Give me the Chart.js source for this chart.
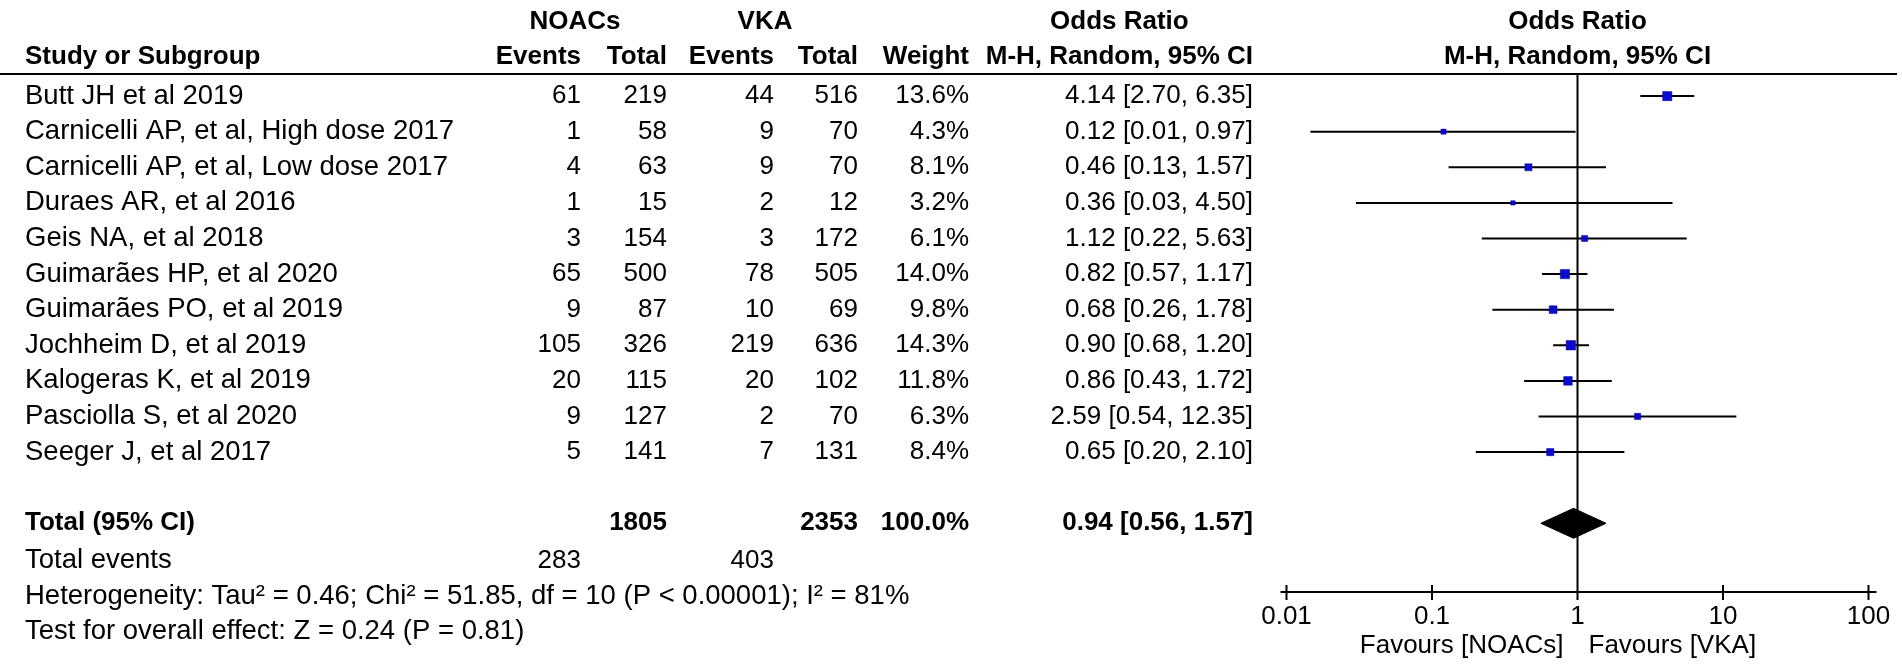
<!DOCTYPE html>
<html>
<head>
<meta charset="utf-8">
<script src="https://cdn.jsdelivr.net/npm/chart.js@4.4.0/dist/chart.umd.min.js"></script>
<style>
html, body { margin: 0; padding: 0; background: #fff; }
#wrap { position: relative; width: 1902px; height: 665px; }
</style>
</head>
<body>
<div id="wrap"><canvas id="forest"></canvas></div>
<script>
var studies = ['Butt JH et al 2019', 'Carnicelli AP, et al, High dose 2017', 'Carnicelli AP, et al, Low dose 2017',
	'Duraes AR, et al 2016', 'Geis NA, et al 2018', 'Guimarães HP, et al 2020', 'Guimarães PO, et al 2019',
	'Jochheim D, et al 2019', 'Kalogeras K, et al 2019', 'Pasciolla S, et al 2020', 'Seeger J, et al 2017'];
var noacEvents = [61, 1, 4, 1, 3, 65, 9, 105, 20, 9, 5];
var noacTotal = [219, 58, 63, 15, 154, 500, 87, 326, 115, 127, 141];
var vkaEvents = [44, 9, 9, 2, 3, 78, 10, 219, 20, 2, 7];
var vkaTotal = [516, 70, 70, 12, 172, 505, 69, 636, 102, 70, 131];
var weights = [13.6, 4.3, 8.1, 3.2, 6.1, 14.0, 9.8, 14.3, 11.8, 6.3, 8.4];
var oddsRatio = [4.14, 0.12, 0.46, 0.36, 1.12, 0.82, 0.68, 0.90, 0.86, 2.59, 0.65];
var ciLow = [2.70, 0.0146, 0.13, 0.03, 0.22, 0.57, 0.26, 0.68, 0.43, 0.54, 0.20];
var ciHigh = [6.35, 0.97, 1.57, 4.50, 5.63, 1.17, 1.78, 1.20, 1.72, 12.35, 2.10];

var totalOR = [0.94, 0.56, 1.57];
var totalN = [1805, 2353];
var totalEvents = [283, 403];
var heterogeneity = 'Heterogeneity: Tau² = 0.46; Chi² = 51.85, df = 10 (P < 0.00001); I² = 81%';
var overallTest = 'Test for overall effect: Z = 0.24 (P = 0.81)';

var tickVals = [0.01, 0.1, 1, 10, 100];
var tickLabels = ['0.01', '0.1', '1', '10', '100'];

var FONT = '"Liberation Sans", Arial, sans-serif';
var totalRow = 12;

// CI whiskers, one segment per study, broken by null points
var ciData = [];
for (var i = 0; i < studies.length; i++) {
	ciData.push({x: ciLow[i], y: i});
	ciData.push({x: ciHigh[i], y: i});
	ciData.push({x: ciHigh[i], y: null});
}

var squareData = [];
for (var k = 0; k < studies.length; k++) {
	squareData.push({x: oddsRatio[k], y: k});
}

var diamondData = [
	{x: totalOR[1], y: totalRow},
	{x: totalOR[0], y: totalRow - 0.42},
	{x: totalOR[2], y: totalRow},
	{x: totalOR[0], y: totalRow + 0.42},
	{x: totalOR[1], y: totalRow}
];

function f2(v) { return v.toFixed(2); }

var forestDecor = {
	id: 'forestDecor',
	beforeDatasetsDraw: function(chart) {
		var ctx = chart.ctx, xs = chart.scales.x, a = chart.chartArea;
		var x1 = xs.getPixelForValue(1);
		ctx.save();
		ctx.strokeStyle = '#000';
		ctx.lineWidth = 2;
		ctx.beginPath();
		ctx.moveTo(0, a.top);
		ctx.lineTo(1897, a.top);
		ctx.moveTo(x1, a.top);
		ctx.lineTo(x1, a.bottom);
		ctx.moveTo(xs.left - 6, a.bottom);
		ctx.lineTo(xs.right + 8, a.bottom);
		for (var t = 0; t < tickVals.length; t++) {
			var px = xs.getPixelForValue(tickVals[t]);
			ctx.moveTo(px, a.bottom - 7);
			ctx.lineTo(px, a.bottom + 8);
		}
		ctx.stroke();
		ctx.restore();
	},
	afterDraw: function(chart) {
		var ctx = chart.ctx, xs = chart.scales.x, ys = chart.scales.y, a = chart.chartArea;
		var x1 = xs.getPixelForValue(1);
		var colStudy = 25, colNE = 581, colNT = 667, colVE = 774, colVT = 858, colW = 969, colOR = 1253;

		function txt(s, x, y, align, bold, size) {
			ctx.font = (bold ? 'bold ' : '') + (size || 26) + 'px ' + FONT;
			ctx.textAlign = align;
			ctx.fillText(s, x, y);
		}

		ctx.save();
		ctx.fillStyle = '#000';
		ctx.textBaseline = 'middle';

		var h1 = a.top - 52, h2 = a.top - 17;
		ctx.font = 'bold 26px ' + FONT;
		var mhW = ctx.measureText('M-H, Random, 95% CI').width;
		txt('NOACs', 575, h1, 'center', true);
		txt('VKA', 765, h1, 'center', true);
		txt('Odds Ratio', colOR - mhW / 2, h1, 'center', true);
		txt('Odds Ratio', x1, h1, 'center', true);
		txt('Study or Subgroup', colStudy, h2, 'left', true);
		txt('Events', colNE, h2, 'right', true);
		txt('Total', colNT, h2, 'right', true);
		txt('Events', colVE, h2, 'right', true);
		txt('Total', colVT, h2, 'right', true);
		txt('Weight', colW, h2, 'right', true);
		txt('M-H, Random, 95% CI', colOR, h2, 'right', true);
		txt('M-H, Random, 95% CI', x1, h2, 'center', true);

		for (var i = 0; i < studies.length; i++) {
			var y = ys.getPixelForValue(i);
			txt(studies[i], colStudy, y, 'left', false, 27.5);
			txt(String(noacEvents[i]), colNE, y, 'right');
			txt(String(noacTotal[i]), colNT, y, 'right');
			txt(String(vkaEvents[i]), colVE, y, 'right');
			txt(String(vkaTotal[i]), colVT, y, 'right');
			txt(weights[i].toFixed(1) + '%', colW, y, 'right');
			txt(f2(oddsRatio[i]) + ' [' + f2(ciLow[i]) + ', ' + f2(ciHigh[i]) + ']', colOR, y, 'right');
		}

		var yt = ys.getPixelForValue(totalRow);
		txt('Total (95% CI)', colStudy, yt, 'left', true);
		txt(String(totalN[0]), colNT, yt, 'right', true);
		txt(String(totalN[1]), colVT, yt, 'right', true);
		txt('100.0%', colW, yt, 'right', true);
		txt(f2(totalOR[0]) + ' [' + f2(totalOR[1]) + ', ' + f2(totalOR[2]) + ']', colOR, yt, 'right', true);

		var ye = ys.getPixelForValue(13.05);
		txt('Total events', colStudy, ye, 'left', false, 27.5);
		txt(String(totalEvents[0]), colNE, ye, 'right');
		txt(String(totalEvents[1]), colVE, ye, 'right');
		txt(heterogeneity, colStudy, ys.getPixelForValue(14.05), 'left', false, 27.5);
		txt(overallTest, colStudy, ys.getPixelForValue(15.05), 'left', false, 27.5);

		txt('Favours [NOACs]', x1 - 14, a.bottom + 54, 'right');
		txt('Favours [VKA]', x1 + 11, a.bottom + 54, 'left');
		ctx.restore();
	}
};

var ctx = document.getElementById('forest').getContext('2d');
var chart = new Chart(ctx, {
	type: 'scatter',
	data: {
		datasets: [{
				label: 'Study OR',
				data: squareData,
				pointStyle: 'rect',
				pointRadius: function(c) { return 2.5 * Math.sqrt(weights[c.dataIndex]) / Math.SQRT2; },
				backgroundColor: '#0a0ad0',
				borderColor: '#0a0a90',
				borderWidth: 0.5
			},
			{
				label: 'Pooled',
				data: diamondData,
				showLine: true,
				fill: 'shape',
				tension: 0,
				pointRadius: 0,
				backgroundColor: '#000',
				borderColor: '#000',
				borderWidth: 1
			},
			{
				label: '95% CI',
				data: ciData,
				showLine: true,
				spanGaps: false,
				pointRadius: 0,
				borderColor: '#000',
				borderWidth: 2
			}
		]
	},
	options: {
		responsive: true,
		maintainAspectRatio: false,
		animation: false,
		events: [],
		layout: { padding: { left: 1286.5, right: 33.5, top: 74, bottom: 0 } },
		plugins: { legend: { display: false }, tooltip: { enabled: false } },
		scales: {
			x: {
				type: 'logarithmic',
				min: 0.01,
				max: 100,
				grid: { display: false, drawTicks: false },
				border: { display: false },
				afterBuildTicks: function(s) { s.ticks = tickVals.map(function(v) { return {value: v}; }); },
				afterFit: function(s) { s.height = 73; },
				ticks: {
					autoSkip: false,
					maxRotation: 0,
					padding: 9,
					color: '#000',
					font: { family: FONT, size: 26 },
					callback: function(v, i) { return tickLabels[i]; }
				}
			},
			y: { type: 'linear', min: -0.62, max: 13.93, reverse: true, display: false }
		}
	},
	plugins: [forestDecor]
});
</script>
</body>
</html>
